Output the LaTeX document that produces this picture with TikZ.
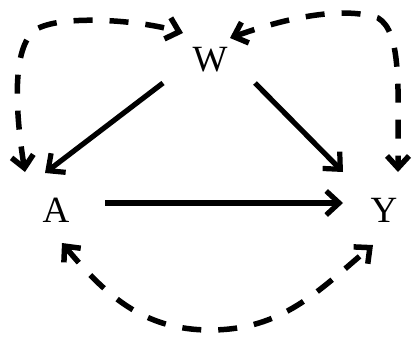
\documentclass[tikz,border=0pt]{standalone}
\usepackage{fontspec}
\setmainfont{Liberation Serif}
\usetikzlibrary{arrows.meta}
\begin{document}
\begin{tikzpicture}[x=1pt,y=-1pt,
  lbl/.style={inner sep=0pt,font=\fontsize{37}{37}\selectfont},
  solidarr/.style={line width=5.2pt,-{Straight Barb[length=13pt,width=24pt]}},
  dasharr/.style={line width=5.5pt,dash pattern=on 19pt off 17pt,
    {Straight Barb[length=12pt,width=22pt]}-{Straight Barb[length=12pt,width=22pt]}}]
\useasboundingbox (0,0) rectangle (414,343);
\node[lbl] (W) at (210,60) {W};
\node[lbl] (A) at (56,210) {A};
\node[lbl] (Y) at (384,210) {Y};
% solid
\draw[solidarr] ([shift={(-47,23)}]W.center) -- ([shift={(-11,-37)}]A.center);
\draw[solidarr] ([shift={(45,23)}]W.center) -- ([shift={(-41,-38)}]Y.center);
\draw[solidarr] ([shift={(49,-7)}]A.center) -- ([shift={(-41,-7)}]Y.center);
% dashed
\draw[dasharr] ([shift={(-31,-38)}]A.center) .. controls (15,110) and (12,48) .. (35,30)
   .. controls (60,14) and (140,20) .. ([shift={(-27,-27)}]W.center);
\draw[dasharr] ([shift={(20,-22)}]W.center) .. controls (280,20) and (340,5) .. (378,18)
   .. controls (402,32) and (398,90) .. ([shift={(14,-38)}]Y.center);
\draw[dasharr] ([shift={(6,33)}]A.center) to[out=-50,in=180] (210,330) to[out=0,in=-140] ([shift={(-11,35)}]Y.center);
\end{tikzpicture}
\end{document}
